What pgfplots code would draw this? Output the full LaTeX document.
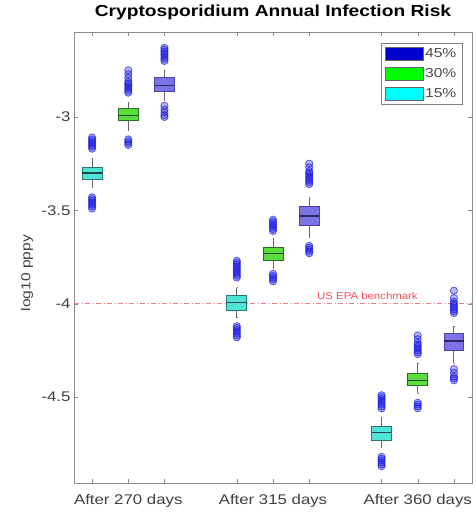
\documentclass[border=0pt]{standalone}
\usepackage{fontspec}
\setmainfont{Liberation Sans}[FakeStretch=1.2]
\usepackage{pgfplots}
\pgfplotsset{compat=1.18}
\usepgfplotslibrary{statistics}
\definecolor{cyb}{RGB}{80,228,215}
\definecolor{cye}{RGB}{40,120,120}
\definecolor{grb}{RGB}{90,222,60}
\definecolor{gre}{RGB}{40,110,40}
\definecolor{blb}{RGB}{125,115,230}
\definecolor{ble}{RGB}{75,65,170}
\definecolor{outc}{RGB}{25,25,225}
\definecolor{epa}{RGB}{245,80,90}
\definecolor{epaline}{RGB}{245,110,120}
\definecolor{legblue}{RGB}{0,0,205}
\definecolor{leggreen}{RGB}{0,255,0}
\definecolor{legcyan}{RGB}{0,255,255}
\pgfplotsset{
  cybox/.style={solid, draw=cye, fill=cyb, mark=none, boxplot/every box/.style={fill=cyb, draw=cye, line width=0.9pt}, boxplot/every median/.style={draw=cye!60!black, line width=1.2pt}, boxplot/every whisker/.style={draw=black!60, line width=0.9pt}},
  grbox/.style={solid, draw=gre, fill=grb, mark=none, boxplot/every box/.style={fill=grb, draw=gre, line width=0.9pt}, boxplot/every median/.style={draw=gre!60!black, line width=1.2pt}, boxplot/every whisker/.style={draw=black!60, line width=0.9pt}},
  blbox/.style={solid, draw=ble, fill=blb, mark=none, boxplot/every box/.style={fill=blb, draw=ble, line width=0.9pt}, boxplot/every median/.style={draw=ble!60!black, line width=1.2pt}, boxplot/every whisker/.style={draw=black!60, line width=0.9pt}},
  outl/.style={only marks, forget plot, mark=*, mark size=3.6pt, mark options={draw=outc, fill=outc, fill opacity=0.3, draw opacity=0.7, line width=0.8pt}},
}
\begin{document}
\begin{tikzpicture}
\useasboundingbox (0,0) rectangle (476pt,512pt);
\begin{axis}[at={(74pt,29pt)}, anchor=south west, scale only axis,
  width=398pt, height=451pt,
  xmin=0.5, xmax=11.5, ymin=-4.96, ymax=-2.545,
  xtick={1,2,3,5,6,7,9,10,11},
  xticklabels={,After 270 days,,,After 315 days,,,After 360 days,},
  ytick={-4.5,-4,-3.5,-3}, yticklabels={-4.5,-4,-3.5,-3},
  tick align=inside, major tick length=4pt,
  axis line style={black!45}, tick style={black!45},
  ticklabel style={font=\fontsize{14}{16}\selectfont, text=black!75},
  xticklabel style={anchor=base, yshift=-21pt},
  title={Cryptosporidium Annual Infection Risk},
  title style={font=\bfseries\fontsize{16}{18}\selectfont, at={(0.5,1)}, anchor=base, yshift=9pt},
  ylabel={log10 pppy},
  ylabel style={font=\fontsize{13}{15}\selectfont, text=black!75, at={(axis description cs:-0.118,0.465)}, anchor=center},
  legend style={at={(axis description cs:0.975,0.976)}, anchor=north east, draw=black!50, font=\fontsize{13}{15}\selectfont, text=black!70, row sep=5.5pt, inner sep=3.5pt, legend cell align=left},
  legend image code/.code={\draw[#1] (0pt,-6.5pt) rectangle (38pt,6.5pt);},
  boxplot/draw direction=y,
]
\addlegendimage{fill=legblue, draw=black!60}
\addlegendentry{45\%}
\addlegendimage{fill=leggreen, draw=black!60}
\addlegendentry{30\%}
\addlegendimage{fill=legcyan, draw=black!60}
\addlegendentry{15\%}

\addplot[forget plot, color=epaline, draw opacity=0.9, line width=1pt, dash pattern=on 5pt off 2.5pt on 1pt off 2.5pt, mark=none] coordinates {(0.5,-4) (11.5,-4)};

% After 270 days
\addplot+[forget plot, cybox, boxplot prepared={draw position=1, lower whisker=-3.376, lower quartile=-3.333, median=-3.30, upper quartile=-3.269, upper whisker=-3.22, box extend=0.55, whisker extend=0.01}] coordinates {};
\addplot+[forget plot, grbox, boxplot prepared={draw position=2, lower whisker=-3.07, lower quartile=-3.02, median=-2.99, upper quartile=-2.957, upper whisker=-2.92, box extend=0.55, whisker extend=0.01}] coordinates {};
\addplot+[forget plot, blbox, boxplot prepared={draw position=3, lower whisker=-2.91, lower quartile=-2.866, median=-2.83, upper quartile=-2.79, upper whisker=-2.75, box extend=0.55, whisker extend=0.01}] coordinates {};
% After 315 days
\addplot+[forget plot, cybox, boxplot prepared={draw position=5, lower whisker=-4.075, lower quartile=-4.038, median=-3.995, upper quartile=-3.957, upper whisker=-3.914, box extend=0.55, whisker extend=0.01}] coordinates {};
\addplot+[forget plot, grbox, boxplot prepared={draw position=6, lower whisker=-3.81, lower quartile=-3.77, median=-3.73, upper quartile=-3.70, upper whisker=-3.65, box extend=0.55, whisker extend=0.01}] coordinates {};
\addplot+[forget plot, blbox, boxplot prepared={draw position=7, lower whisker=-3.645, lower quartile=-3.58, median=-3.53, upper quartile=-3.48, upper whisker=-3.43, box extend=0.55, whisker extend=0.01}] coordinates {};
% After 360 days
\addplot+[forget plot, cybox, boxplot prepared={draw position=9, lower whisker=-4.77, lower quartile=-4.73, median=-4.69, upper quartile=-4.656, upper whisker=-4.61, box extend=0.55, whisker extend=0.01}] coordinates {};
\addplot+[forget plot, grbox, boxplot prepared={draw position=10, lower whisker=-4.48, lower quartile=-4.44, median=-4.41, upper quartile=-4.376, upper whisker=-4.32, box extend=0.55, whisker extend=0.01}] coordinates {};
\addplot+[forget plot, blbox, boxplot prepared={draw position=11, lower whisker=-4.32, lower quartile=-4.25, median=-4.20, upper quartile=-4.16, upper whisker=-4.12, box extend=0.55, whisker extend=0.01}] coordinates {};

% outliers
\addplot[outl] coordinates {
(1,-3.11) (1,-3.12) (1,-3.13) (1,-3.14) (1,-3.15) (1,-3.16) (1,-3.17)
(1,-3.43) (1,-3.44) (1,-3.45) (1,-3.46) (1,-3.47) (1,-3.48) (1,-3.49)
(2,-2.75) (2,-2.77) (2,-2.79) (2,-2.81) (2,-2.82) (2,-2.83) (2,-2.84) (2,-2.85) (2,-2.86) (2,-2.87)
(2,-3.12) (2,-3.13) (2,-3.14) (2,-3.15)
(3,-2.63) (3,-2.64) (3,-2.65) (3,-2.66) (3,-2.67) (3,-2.68) (3,-2.69) (3,-2.70)
(3,-2.94) (3,-2.96) (3,-2.975) (3,-2.99) (3,-3.00)
(5,-3.77) (5,-3.78) (5,-3.79) (5,-3.80) (5,-3.81) (5,-3.82) (5,-3.83) (5,-3.84) (5,-3.85) (5,-3.86)
(5,-4.12) (5,-4.13) (5,-4.14) (5,-4.15) (5,-4.16) (5,-4.17) (5,-4.18)
(6,-3.55) (6,-3.56) (6,-3.57) (6,-3.58) (6,-3.59) (6,-3.60) (6,-3.61)
(6,-3.84) (6,-3.85) (6,-3.86) (6,-3.87) (6,-3.88)
(7,-3.25) (7,-3.27) (7,-3.29) (7,-3.30) (7,-3.31) (7,-3.32) (7,-3.33) (7,-3.34) (7,-3.35) (7,-3.36)
(7,-3.69) (7,-3.70) (7,-3.71) (7,-3.72) (7,-3.73)
(9,-4.49) (9,-4.50) (9,-4.51) (9,-4.52) (9,-4.53) (9,-4.54) (9,-4.55) (9,-4.56)
(9,-4.82) (9,-4.83) (9,-4.84) (9,-4.85) (9,-4.86) (9,-4.87)
(10,-4.17) (10,-4.19) (10,-4.21) (10,-4.22) (10,-4.23) (10,-4.24) (10,-4.25) (10,-4.26) (10,-4.27)
(10,-4.53) (10,-4.54) (10,-4.55) (10,-4.56)
(11,-3.93) (11,-3.97) (11,-3.99) (11,-4.00) (11,-4.01) (11,-4.02) (11,-4.03) (11,-4.04) (11,-4.05)
(11,-4.35) (11,-4.37) (11,-4.39) (11,-4.40) (11,-4.41)
};

\node[text=epa, font=\fontsize{10}{12}\selectfont, anchor=base, xscale=0.95] at (axis cs:8.61,-3.975) {US EPA benchmark};
\end{axis}
\end{tikzpicture}
\end{document}
